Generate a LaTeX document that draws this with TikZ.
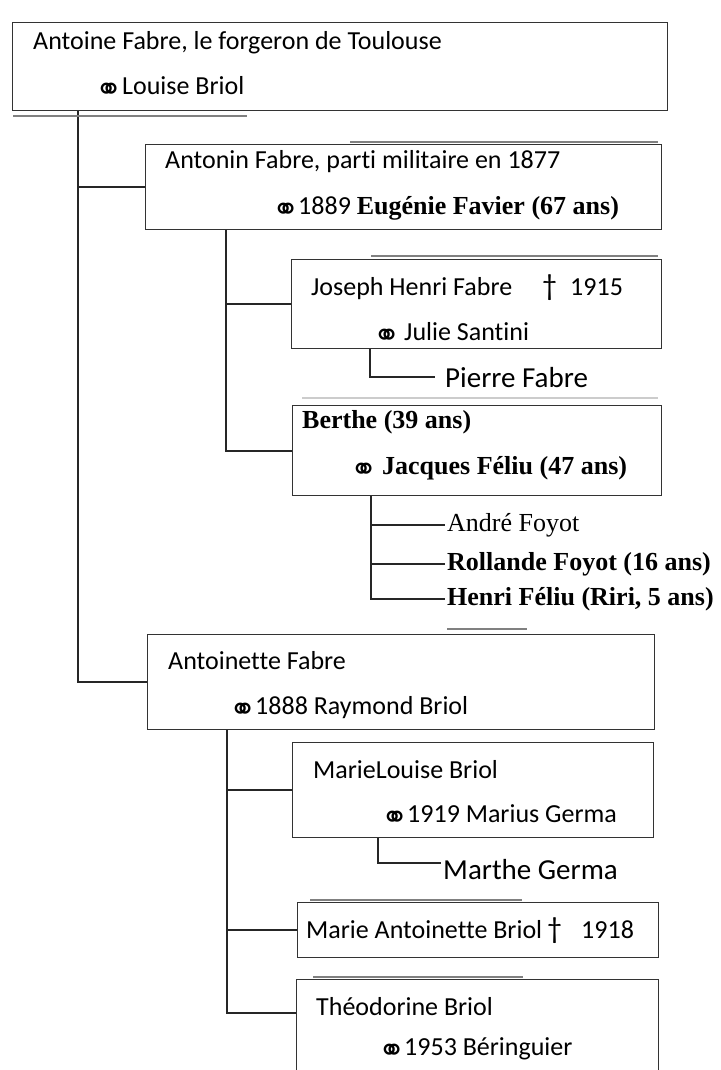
\documentclass[tikz,border=0pt]{standalone}
\usepackage{fontspec}
\usepackage{graphicx}
\setmainfont{Carlito}[Ligatures=NoCommon]
\newfontfamily\serifbold{Liberation Serif}
\newfontfamily\symbfont{DejaVu Sans}
\usetikzlibrary{positioning}
\newcommand{\mariage}[1][26pt]{\makebox[#1][l]{\raisebox{-6pt}{\scalebox{1.12}[1.12]{\symbfont\bfseries\fontsize{29}{29}\selectfont ⚭}}}}
\newcommand{\croix}{{\fontsize{30}{30}\selectfont †}}
\newcommand{\gras}[1]{{\serifbold\bfseries #1}}

\begin{document}
\begin{tikzpicture}[
    x=1pt, y=-1pt,
    boite/.style={
        draw=black!80,
        line width=1.3pt,
        anchor=north west,
        inner sep=0pt
    },
    texte/.style={
        anchor=base west,
        inner sep=0pt,
        font=\fontsize{26}{31}\selectfont
    },
    enfant/.style={
        anchor=base west,
        inner xsep=2pt,
        inner ysep=0pt,
        font=\fontsize{26}{31}\selectfont
    },
    lien/.style={
        line width=2.3pt,
        black!85
    },
    crayon/.style={
        line width=2pt,
        black!50
    }
]
\useasboundingbox (0,0) rectangle (720,1070);
\clip (0,0) rectangle (720,1070);

% ============================================================
% ANTOINE ET SES ENFANTS
% ============================================================

\node[boite, minimum width=655pt, minimum height=88pt] (antoine) at (12,22) {};
\node[texte] (antoine1) at (33,50) {Antoine Fabre, le forgeron de Toulouse};
\node[texte] (antoine2) at (95,95) {\mariage[27pt]Louise Briol};

\node[boite, minimum width=516pt, minimum height=85pt] (antonin) at (145,144) {};
\node[texte] (antonin1) at (165,168) {Antonin Fabre, parti militaire en 1877};
\node[texte] (antonin2) at (272,214) {\mariage 1889 \gras{Eugénie Favier (67 ans)}};

\node[boite, minimum width=507pt, minimum height=95pt] (antoinette) at (147,634) {};
\node[texte] (antoinette1) at (168,669) {Antoinette Fabre};
\node[texte] (antoinette2) at (229,714) {\mariage 1888 Raymond Briol};

\coordinate (troncA) at ([xshift=66pt]antoine.south west);
\draw[lien] (troncA) |- (antoinette.west);
\draw[lien] (troncA |- antonin.west) -- (antonin.west);

% ============================================================
% BRANCHE ANTONIN
% ============================================================

\node[boite, minimum width=370pt, minimum height=89pt] (joseph) at (291,259) {};
\node[texte] (joseph1) at (311,295)
{Joseph Henri Fabre\hspace{30pt}\makebox[28pt][l]{\croix}1915};
\node[texte] (joseph2) at (373,340) {\mariage[31pt]Julie Santini};

\node[enfant, inner xsep=10pt, font=\fontsize{29}{34}\selectfont] (pierre) at (435,387)
{Pierre Fabre};

\node[boite, minimum width=369pt, minimum height=90pt] (berthe) at (292,405) {};
\node[texte] (berthe1) at (302,428) {\gras{Berthe (39 ans)}};
\node[texte] (berthe2) at (350,474) {\mariage[32pt]\gras{Jacques Féliu (47 ans)}};

\node[enfant] (andre) at (445,531) {\serifbold André Foyot};
\node[enfant] (rollande) at (445,570) {\gras{Rollande Foyot (16 ans)}};
\node[enfant] (henri) at (445,605) {\gras{Henri Féliu (Riri, 5 ans)}};

\coordinate (troncB) at ([xshift=81pt]antonin.south west);
\draw[lien] (troncB) |- (berthe.west);
\draw[lien] (troncB |- joseph.west) -- (joseph.west);

\coordinate (troncC) at ([xshift=79pt]joseph.south west);
\draw[lien] (troncC) |- (pierre.west);

\coordinate (troncD) at ([xshift=79pt]berthe.south west);
\draw[lien] (troncD) |- (henri.west);
\draw[lien] (troncD |- andre.west) -- (andre.west);
\draw[lien] (troncD |- rollande.west) -- (rollande.west);

% ============================================================
% BRANCHE ANTOINETTE
% ============================================================

\node[boite, minimum width=361pt, minimum height=95pt] (marielouise) at (292,742) {};
\node[texte] (marielouise1) at (313,778) {MarieLouise Briol};
\node[texte] (marielouise2) at (381,822) {\mariage 1919 Marius Germa};

\node[enfant, font=\fontsize{29}{34}\selectfont] (marthe) at (441,879) {Marthe Germa};

\node[boite, minimum width=361pt, minimum height=55pt] (marieant) at (297,902) {};
\node[texte] (marieant1) at (306,938)
{Marie Antoinette Briol\hspace{5pt}\makebox[34pt][l]{\croix}1918};

\node[boite, minimum width=362pt, minimum height=110pt] (theodorine) at (296,979) {};
\node[texte] (theodorine1) at (316,1015) {Théodorine Briol};
\node[texte] (theodorine2) at (378,1055) {\mariage 1953 Béringuier};

\coordinate (troncE) at ([xshift=80pt]antoinette.south west);
\draw[lien] (troncE) |- ([yshift=-34pt]theodorine.north west);
\draw[lien] (troncE |- marielouise.west) -- (marielouise.west);
\draw[lien] (troncE |- marieant.west) -- (marieant.west);

\coordinate (troncF) at ([xshift=86pt]marielouise.south west);
\draw[lien] (troncF) |- ([yshift=6pt]marthe.west);

% traits de crayon
\draw[crayon] ([xshift=1pt,yshift=-5pt]antoine.south west) -- ([xshift=235pt,yshift=-5pt]antoine.south west);
\draw[crayon] ([xshift=205pt,yshift=2pt]antonin.north west) -- ([xshift=-4pt,yshift=2pt]antonin.north east);
\draw[crayon] ([xshift=80pt,yshift=3pt]joseph.north west) -- ([xshift=-4pt,yshift=3pt]joseph.north east);
\draw[crayon, black!20] ([xshift=10pt,yshift=7pt]berthe.north west) -- ([xshift=-4pt,yshift=7pt]berthe.north east);
\draw[crayon] ([xshift=300pt,yshift=5pt]antoinette.north west) -- ([xshift=380pt,yshift=5pt]antoinette.north west);
\draw[crayon] ([xshift=13pt,yshift=2pt]marieant.north west) -- ([xshift=225pt,yshift=2pt]marieant.north west);
\draw[crayon] ([xshift=17pt,yshift=2pt]theodorine.north west) -- ([xshift=227pt,yshift=2pt]theodorine.north west);

\end{tikzpicture}
\end{document}
